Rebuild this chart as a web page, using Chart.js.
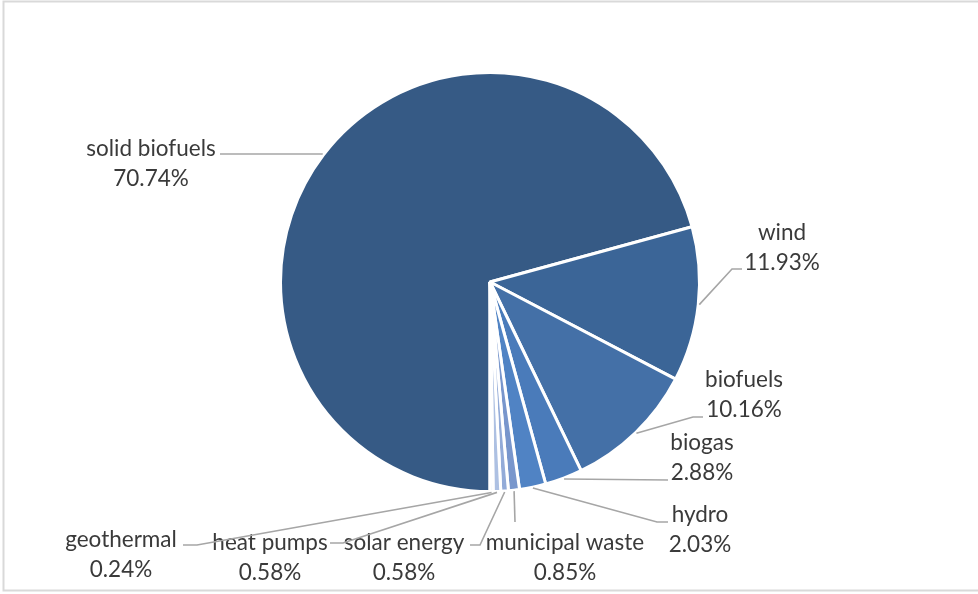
<!DOCTYPE html>
<html>
<head>
<meta charset="utf-8">
<script src="https://cdn.jsdelivr.net/npm/chart.js@4.4.1/dist/chart.umd.min.js"></script>
<style>
  html, body { margin: 0; padding: 0; background: #fff; }
  #wrap { width: 978px; height: 594px; position: relative; }
</style>
</head>
<body>
<div id="wrap"><canvas id="pie" width="978" height="594"></canvas></div>
<script>
// renewable energy mix, shares in percent
var sources = ['solid biofuels', 'wind', 'biofuels', 'biogas', 'hydro',
  'municipal waste', 'solar energy', 'heat pumps', 'geothermal'];
var shares = [70.74, 11.93, 10.16, 2.88, 2.03, 0.85, 0.58, 0.58, 0.24];
var shareLabels = ['70.74%', '11.93%', '10.16%', '2.88%', '2.03%', '0.85%', '0.58%', '0.58%', '0.24%'];

var sliceColors = ['#365a85', '#3b6597', '#4470a7', '#4a7bba', '#5083c4',
  '#7896cc', '#93abd8', '#adc0e2', '#c3d1ea'];

// where each label sits: text centre x, first baseline y, then the leader bend and end
var labelSpots = [
  { x: 151, y: 156, bend: [322, 154], end: [220, 154] },
  { x: 782, y: 240, bend: [732, 269], end: [742, 269] },
  { x: 744, y: 387, bend: [693, 417], end: [703, 417] },
  { x: 702, y: 450, bend: [668, 480], end: [668, 480] },
  { x: 700, y: 522, bend: [657, 522], end: [668, 522] },
  { x: 565, y: 550, bend: [515, 522], end: [515, 522] },
  { x: 404, y: 550, bend: [480, 545], end: [470, 545] },
  { x: 270, y: 550, bend: [343, 543], end: [330, 543] },
  { x: 121, y: 547, bend: [197, 545], end: [183, 545] }
];

var FONT = '22.5px Lato, "Open Sans", sans-serif';
var LINE_GAP = 29.5;

var frame = {
  id: 'frame',
  beforeDraw: function(chart) {
    var ctx = chart.ctx;
    ctx.save();
    ctx.strokeStyle = '#d9d9d9';
    ctx.lineWidth = 2;
    ctx.strokeRect(3.5, 1.5, 980, 589);
    ctx.restore();
  }
};

var calloutLabels = {
  id: 'calloutLabels',
  afterDatasetsDraw: function(chart) {
    var ctx = chart.ctx;
    var arcs = chart.getDatasetMeta(0).data;
    ctx.save();
    arcs.forEach(function(arc, i) {
      var p = arc.getProps(['x', 'y', 'startAngle', 'endAngle', 'outerRadius'], true);
      var mid = (p.startAngle + p.endAngle) / 2;
      var sx = p.x + Math.cos(mid) * (p.outerRadius + 1);
      var sy = p.y + Math.sin(mid) * (p.outerRadius + 1);
      var spot = labelSpots[i];
      ctx.strokeStyle = '#a6a6a6';
      ctx.lineWidth = 1.6;
      ctx.beginPath();
      ctx.moveTo(sx, sy);
      ctx.lineTo(spot.bend[0], spot.bend[1]);
      ctx.lineTo(spot.end[0], spot.end[1]);
      ctx.stroke();

      ctx.fillStyle = '#3a3a3a';
      ctx.font = FONT;
      ctx.textAlign = 'center';
      ctx.textBaseline = 'alphabetic';
      ctx.fillText(sources[i], spot.x, spot.y);
      ctx.fillText(shareLabels[i], spot.x, spot.y + LINE_GAP);
    });
    ctx.restore();
  }
};

new Chart(document.getElementById('pie'), {
  type: 'pie',
  data: {
    labels: sources,
    datasets: [{
      data: shares,
      backgroundColor: sliceColors,
      borderColor: '#ffffff',
      borderWidth: 3
    }]
  },
  options: {
    responsive: false,
    animation: false,
    rotation: 180,
    layout: { padding: { top: 71, bottom: 101, left: 200, right: 198 } },
    plugins: {
      legend: { display: false },
      tooltip: { enabled: false }
    }
  },
  plugins: [frame, calloutLabels]
});
</script>
</body>
</html>
